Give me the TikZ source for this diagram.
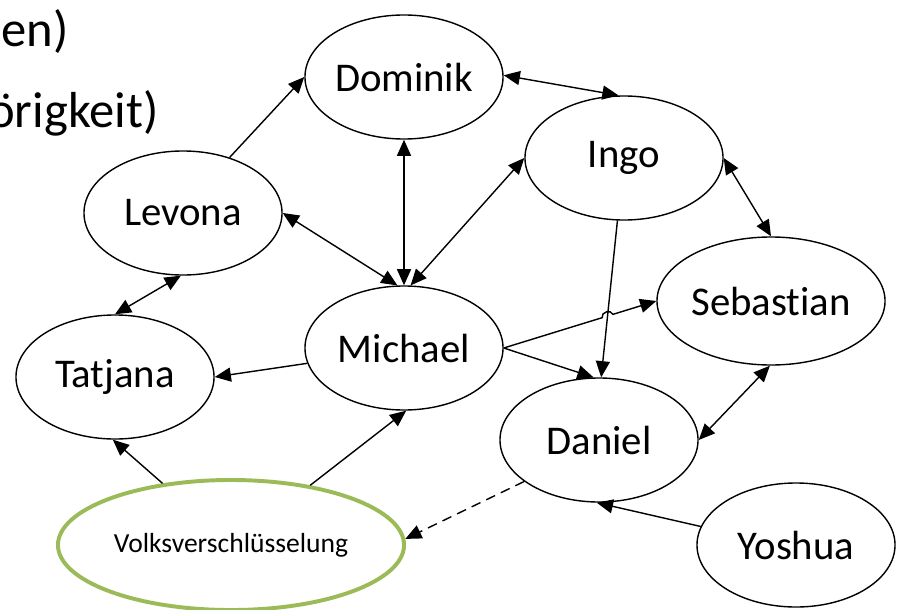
\documentclass[tikz,border=0pt]{standalone}
\usepackage{fontspec}
\setmainfont{Carlito}[Ligatures=NoCommon]
\usetikzlibrary{shapes.geometric,arrows.meta,calc,intersections}
\definecolor{volkgreen}{RGB}{155,187,89}

\begin{document}
\begin{tikzpicture}[x=0.025cm,y=-0.025cm,
  person/.style={ellipse,draw,line width=1pt,minimum width=4.95cm,minimum height=3.1cm,inner sep=0pt,font=\fontsize{29}{35}\selectfont},
  link/.style={line width=1pt,-{Triangle[length=11.5pt,width=10pt]}},
  both/.style={line width=1pt,{Triangle[length=11.5pt,width=10pt]}-{Triangle[length=11.5pt,width=10pt]}},
  slidetext/.style={font=\fontsize{36}{43}\selectfont,anchor=base west,inner sep=0pt}]
\useasboundingbox (0,0) rectangle (899,610);
\clip (0,0) rectangle (899,610);

\node[slidetext] (topa) at (1,47) {en)};
\node[slidetext] (topb) at (-12,128) {örigkeit)};

\node[person] (dom) at (404,77) {Dominik};
\node[person] (ingo) at (624,158) {Ingo};
\node[person] (lev) at (183,213) {Levona};
\node[person,minimum width=5.7cm,minimum height=3.2cm] (seb) at (771,301) {Sebastian};
\node[person] (mic) at (404,348) {Michael};
\node[person] (tat) at (115,377) {Tatjana};
\node[person] (dan) at (599,440) {Daniel};
\node[person] (yosh) at (796,545) {Yoshua};
\node[person,draw=volkgreen,line width=2.8pt,minimum width=8.65cm,minimum height=3.25cm,font=\fontsize{19.6}{24}\selectfont] (volk) at (231,545) {Volksverschlüsselung};

\draw[link] (lev.50) -- (dom.180);
\draw[both] (dom.1) -- (ingo.95);
\draw[both] (dom.270) -- (mic.90);
\draw[both] (lev.0) -- (mic.96);
\draw[both] (ingo.180) -- (mic.84);
\draw[both] (ingo.0) -- (seb.90);
\draw[both] (lev.268) -- (tat.90);
\draw[link] (mic.189) -- (tat.0);
\draw[link] (mic.0) -- (dan.95);
\draw[link] (ingo.264) -- (dan.88);
\draw[both] (seb.269) -- (dan.0);
\draw[link] (volk.138) -- (tat.268);
\draw[link] (volk.37) -- (mic.272);
\draw[link,dash pattern=on 7pt off 4.5pt] (dan.209) -- (volk.2);
\draw[link] (yosh.169) -- (dan.268);

\path[name path=ingodan] (ingo.264) -- (dan.88);
\path[name path=micseb] (mic.0) -- (seb.180);
\path[name intersections={of=ingodan and micseb,by=hop}];
\draw[link] (mic.0) -- ($(hop)!0.14cm!(mic.0)$) to[bend left=90,looseness=1.3] ($(hop)!0.14cm!(seb.180)$) -- (seb.180);

\end{tikzpicture}
\end{document}
